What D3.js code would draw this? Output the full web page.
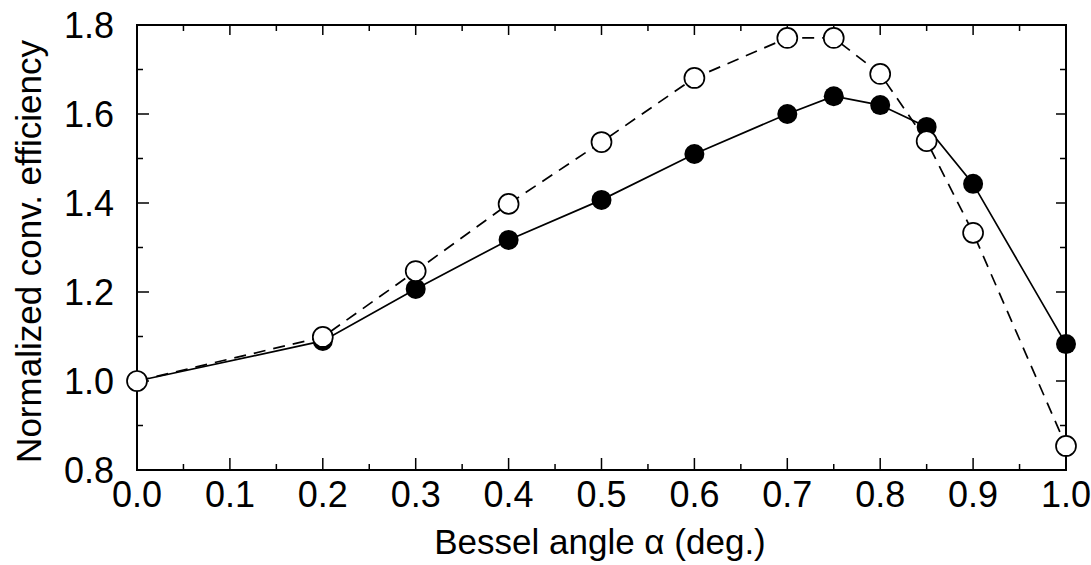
<!DOCTYPE html>
<html><head><meta charset="utf-8">
<script src="https://cdn.jsdelivr.net/npm/d3@7"></script>
<style>body{margin:0;background:#fff;} text{font-family:"Liberation Sans",Arial,Helvetica,sans-serif;fill:#000;}</style>
</head><body>
<svg id="c" width="1091" height="565"></svg>
<script>
const alpha = [0.0, 0.2, 0.3, 0.4, 0.5, 0.6, 0.7, 0.75, 0.8, 0.85, 0.9, 1.0];
const filledSeries = [1.0, 1.09, 1.207, 1.317, 1.407, 1.51, 1.60, 1.64, 1.62, 1.571, 1.443, 1.083];
const openSeries = [1.0, 1.099, 1.247, 1.398, 1.537, 1.681, 1.771, 1.771, 1.69, 1.539, 1.333, 0.854];
const xTicks = [0.0,0.1,0.2,0.3,0.4,0.5,0.6,0.7,0.8,0.9,1.0];
const xMinor = [0.05,0.15,0.25,0.35,0.45,0.55,0.65,0.75,0.85,0.95];
const yTicks = [0.8,1.0,1.2,1.4,1.6,1.8];
const yMinor = [0.9,1.1,1.3,1.5,1.7];
const xTitle = "Bessel angle \u03b1 (deg.)";
const yTitle = "Normalized conv. efficiency";

const L=137,R=1066,T=25,B=470;
const svg=d3.select("#c");
const x=d3.scaleLinear().domain([0,1]).range([L,R]);
const y=d3.scaleLinear().domain([0.8,1.8]).range([B,T]);

const g=svg.append("g");
const big=12, small=6;
xTicks.forEach(v=>{g.append("line").attr("x1",x(v)).attr("x2",x(v)).attr("y1",B).attr("y2",B-big);
  g.append("line").attr("x1",x(v)).attr("x2",x(v)).attr("y1",T).attr("y2",T+10);});
xMinor.forEach(v=>{g.append("line").attr("x1",x(v)).attr("x2",x(v)).attr("y1",B).attr("y2",B-small);
  g.append("line").attr("x1",x(v)).attr("x2",x(v)).attr("y1",T).attr("y2",T+small);});
yTicks.forEach(v=>{g.append("line").attr("x1",L).attr("x2",L+big).attr("y1",y(v)).attr("y2",y(v));
  g.append("line").attr("x1",R).attr("x2",R-10).attr("y1",y(v)).attr("y2",y(v));});
yMinor.forEach(v=>{g.append("line").attr("x1",L).attr("x2",L+small).attr("y1",y(v)).attr("y2",y(v));
  g.append("line").attr("x1",R).attr("x2",R-small).attr("y1",y(v)).attr("y2",y(v));});
g.selectAll("line").attr("stroke","#000").attr("stroke-width",1.5);
g.append("rect").attr("x",L).attr("y",T).attr("width",R-L).attr("height",B-T)
 .attr("fill","none").attr("stroke","#000").attr("stroke-width",2);

svg.append("g").selectAll("text").data(xTicks).join("text")
 .attr("x",d=>x(d)).attr("y",B+37).attr("text-anchor","middle").attr("font-size",36)
 .text(d=>d3.format(".1f")(d));
svg.append("g").selectAll("text").data(yTicks).join("text")
 .attr("x",L-23).attr("y",d=>y(d)+13).attr("text-anchor","end").attr("font-size",36)
 .text(d=>d3.format(".1f")(d));
svg.append("text").attr("x",600).attr("y",554).attr("text-anchor","middle").attr("font-size",35).text(xTitle);
svg.append("text").attr("transform",`translate(41,${(T+B)/2+4}) rotate(-90)`).attr("text-anchor","middle").attr("font-size",35).text(yTitle);

const pts1=alpha.map((a,i)=>[a,filledSeries[i]]);
const pts2=alpha.map((a,i)=>[a,openSeries[i]]);
const line=d3.line().x(d=>x(d[0])).y(d=>y(d[1]));
svg.append("path").attr("d",line(pts1)).attr("fill","none").attr("stroke","#000").attr("stroke-width",1.7);
svg.append("path").attr("d",line(pts2)).attr("fill","none").attr("stroke","#000").attr("stroke-width",1.7).attr("stroke-dasharray","12,8");
svg.append("g").selectAll("circle").data(pts1).join("circle")
 .attr("cx",d=>x(d[0])).attr("cy",d=>y(d[1])).attr("r",10).attr("fill","#000");
svg.append("g").selectAll("circle").data(pts2).join("circle")
 .attr("cx",d=>x(d[0])).attr("cy",d=>y(d[1])).attr("r",10).attr("fill","#fff").attr("stroke","#000").attr("stroke-width",1.7);
</script>
</body></html>
